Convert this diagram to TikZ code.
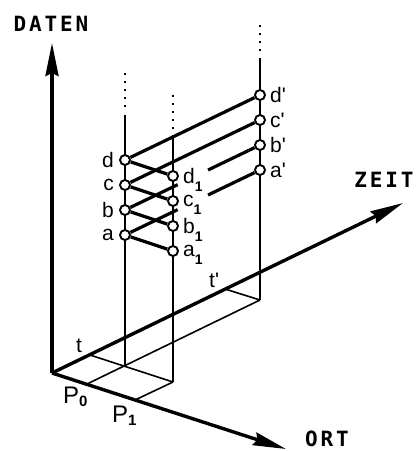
\documentclass[tikz,border=0pt]{standalone}
\usepackage{fontspec}
\setmainfont{Liberation Sans}
\newfontfamily\axisfont[LetterSpace=13.6]{DejaVu Sans Mono}
\usetikzlibrary{positioning,arrows.meta,calc}
\newcommand\dsub[1]{\raisebox{-8pt}[0pt][0pt]{\fontsize{14}{14}\selectfont\bfseries #1}}
\newcommand\psub[1]{\raisebox{-3pt}[0pt][0pt]{\fontsize{15}{15}\selectfont\bfseries #1}}

\begin{document}
\begin{tikzpicture}[x=1pt, y=-1pt,
  axis/.style={-{Stealth[length=33pt,width=13pt,inset=3pt]}, line width=3.4pt},
  axlbl/.style={font=\axisfont\bfseries\fontsize{21}{21}\selectfont, inner sep=0pt},
  base/.style={line width=1.6pt},
  col/.style={line width=1.8pt},
  dotcol/.style={line width=1.8pt, dash pattern=on 1.6pt off 6.4pt},
  data/.style={line width=3.2pt},
  pt/.style={circle, draw, fill=white, line width=1.9pt, inner sep=0pt, minimum size=10pt},
  lbl/.style={font=\fontsize{21}{21}\selectfont, inner sep=0pt},
  plbl/.style={font=\fontsize{24}{24}\selectfont, inner sep=0pt}
]
\useasboundingbox (0,0) rectangle (416,451);
% axes
\coordinate (O) at (52,373);
\coordinate (daten) at (52,43);
\coordinate (zeit) at (403,203);
\coordinate (ort) at (286,449);
% ground plane
\coordinate (t) at (90,355);
\coordinate (t2) at (225,289);
\coordinate (P0) at (87,384);
\coordinate (P1) at (135,400);
\coordinate (tP0) at (125,366);
\coordinate (tP1) at (173,382);
\coordinate (t2P0) at (260,300);
\draw[base] (t) -- (tP1);
\draw[base] (P0) -- (t2P0);
\draw[base] (P1) -- (tP1);
\draw[base] (t2) -- (t2P0);
% columns
\coordinate (top1) at (125,115); \coordinate (dot1a) at (125,107); \coordinate (dot1b) at (125,73);
\coordinate (top2) at (173,135); \coordinate (dot2a) at (173,129); \coordinate (dot2b) at (173,95);
\coordinate (top3) at (260,58);  \coordinate (dot3a) at (260,51);  \coordinate (dot3b) at (260,21);
\draw[col] (tP0) -- (top1); \draw[dotcol] (dot1a) -- (dot1b);
\draw[col] (tP1) -- (top2); \draw[dotcol] (dot2a) -- (dot2b);
\draw[col] (t2P0) -- (top3); \draw[dotcol] (dot3a) -- (dot3b);
\draw[axis] (O) -- (daten);
\draw[axis] (O) -- (zeit);
\draw[axis] (O) -- (ort);
\node[axlbl] (datenlbl) at (51,24) {DATEN};
\node[axlbl] (zeitlbl) at (384,180) {ZEIT};
\node[axlbl] (ortlbl) at (327,439) {ORT};
\node[lbl, anchor=base west] (tlbl) at (76,352) {t};
\node[lbl, anchor=base west] (t2lbl) at (209,287) {t\textquotesingle};
\node[plbl, anchor=north west] (P0lbl) at (63,387) {P\psub{0}};
\node[plbl, anchor=north west] (P1lbl) at (112,406) {P\psub{1}};
% data points
\node[pt, label={[lbl,label distance=5pt]left:d}] (d) at (125,160) {};
\node[pt, label={[lbl,label distance=5pt]left:c}] (c) at (125,185) {};
\node[pt, label={[lbl,label distance=5pt]left:b}] (b) at (125,210) {};
\node[pt, label={[lbl,label distance=5pt]left:a}] (a) at (125,235) {};
\node[pt, label={[lbl,label distance=4pt]right:d\dsub{1}}] (d1) at (173,176) {};
\node[pt, label={[lbl,label distance=4pt]right:c\dsub{1}}] (c1) at (173,201) {};
\node[pt, label={[lbl,label distance=4pt]right:b\dsub{1}}] (b1) at (173,226) {};
\node[pt, label={[lbl,label distance=4pt]right:a\dsub{1}}] (a1) at (173,251) {};
\node[pt, label={[lbl,label distance=4pt]right:d\textquotesingle}] (dp) at (260,95) {};
\node[pt, label={[lbl,label distance=4pt]right:c\textquotesingle}] (cp) at (260,120) {};
\node[pt, label={[lbl,label distance=4pt]right:b\textquotesingle}] (bp) at (260,145) {};
\node[pt, label={[lbl,label distance=4pt]right:a\textquotesingle}] (ap) at (260,170) {};
\coordinate (bcut) at ($(b)!0.39!(bp)$);
\coordinate (bres) at ($(b)!0.615!(bp)$);
\coordinate (acut) at ($(a)!0.39!(ap)$);
\coordinate (ares) at ($(a)!0.615!(ap)$);
\draw[data] (d) -- (dp); \draw[data] (d) -- (d1);
\draw[data] (c) -- (cp); \draw[data] (c) -- (c1);
\draw[data] (b) -- (bcut); \draw[data] (bres) -- (bp); \draw[data] (b) -- (b1);
\draw[data] (a) -- (acut); \draw[data] (ares) -- (ap); \draw[data] (a) -- (a1);
\end{tikzpicture}
\end{document}
